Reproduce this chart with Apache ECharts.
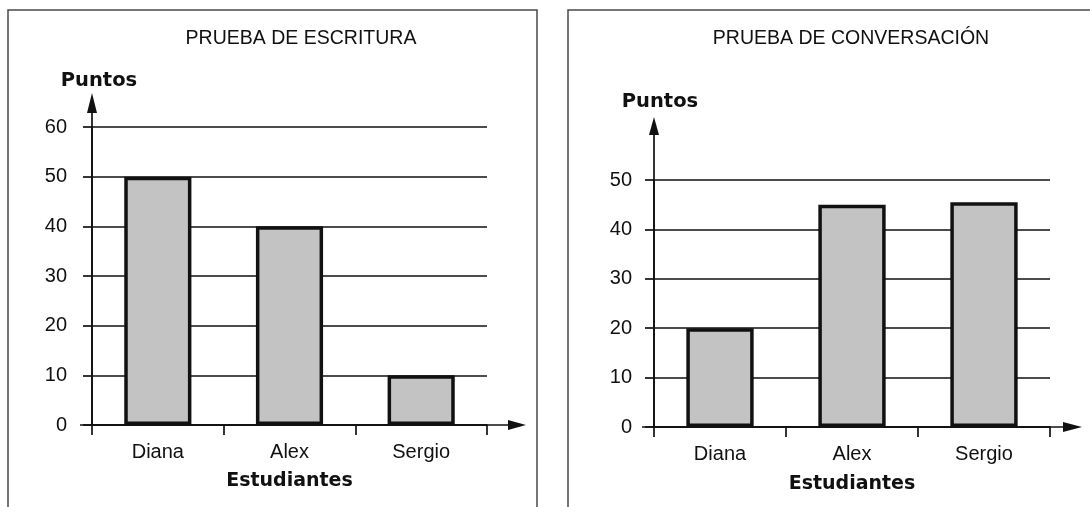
<!DOCTYPE html>
<html><head><meta charset="utf-8">
<script src="https://cdn.jsdelivr.net/npm/echarts@6/dist/echarts.min.js"></script>
<style>html,body{margin:0;padding:0;background:#fff}#c{width:1090px;height:507px}</style>
</head><body><div id="c"></div>
<script>
// ---- data ----
const categories = ['Diana', 'Alex', 'Sergio'];
const escrituraValues = [50, 40, 10];
const conversacionValues = [20, 45, 45.5];
const escrituraTicks = [0, 10, 20, 30, 40, 50, 60];
const conversacionTicks = [0, 10, 20, 30, 40, 50];
const titles = ['PRUEBA DE ESCRITURA', 'PRUEBA DE CONVERSACIÓN'];
const yName = 'Puntos';
const xName = 'Estudiantes';

// ---- layout ----
const FONT = '"Liberation Sans", Arial, sans-serif';
const BFONT = '"DejaVu Sans", "Liberation Sans", sans-serif';
const INK = '#111111';
const LW = 1.7;
const G = [
  { left: 92, top: 127, width: 395, height: 298 },
  { left: 654, top: 180, width: 396, height: 247 }
];

function yAxisFor(i, ticks, margin) {
  return {
    type: 'value', gridIndex: i,
    min: ticks[0], max: ticks[ticks.length - 1], interval: ticks[1] - ticks[0],
    axisLine: { show: true, lineStyle: { color: INK, width: LW } },
    axisTick: { show: true, length: 9, lineStyle: { color: INK, width: LW } },
    splitLine: { show: true, lineStyle: { color: INK, width: LW } },
    axisLabel: { color: INK, fontFamily: FONT, fontSize: 20, margin: margin }
  };
}
function xAxisFor(i, gap, lblMargin) {
  return {
    type: 'category', gridIndex: i, data: categories,
    axisLine: { show: true, lineStyle: { color: INK, width: LW } },
    axisTick: { show: true, length: 10, lineStyle: { color: INK, width: LW } },
    axisLabel: { color: INK, fontFamily: FONT, fontSize: 20, margin: lblMargin },
    name: xName, nameLocation: 'middle', nameGap: gap,
    nameTextStyle: { color: INK, fontFamily: BFONT, fontSize: 19, fontWeight: 'bold' }
  };
}
function barSeries(i, values) {
  return {
    type: 'bar', xAxisIndex: i, yAxisIndex: i, data: values, barWidth: '51%',
    itemStyle: { color: '#c3c3c3', borderColor: INK, borderWidth: 3.5 },
    silent: true
  };
}

// axis arrows built from the grid layout
function axisDecor(g, xStartPad, xEnd, xTip, yTop, yTip) {
  const x0 = g.left, y0 = g.top + g.height;
  const ls = { stroke: INK, lineWidth: LW };
  return [
    { type: 'line', z: 100, shape: { x1: x0 - xStartPad, y1: y0, x2: xEnd + 2, y2: y0 }, style: ls },
    { type: 'polygon', z: 100, shape: { points: [[xEnd, y0 - 5], [xTip, y0], [xEnd, y0 + 5]] }, style: { fill: INK } },
    { type: 'line', z: 100, shape: { x1: x0, y1: y0, x2: x0, y2: yTop - 2 }, style: ls },
    { type: 'polygon', z: 100, shape: { points: [[x0 - 5, yTop], [x0, yTip], [x0 + 5, yTop]] }, style: { fill: INK } }
  ];
}

const chart = echarts.init(document.getElementById('c'), null, { renderer: 'canvas' });
chart.setOption({
  animation: false,
  backgroundColor: '#fff',
  grid: G,
  title: [
    { text: titles[0], left: 296, top: 24, textAlign: 'center',
      textStyle: { color: INK, fontFamily: FONT, fontSize: 19.5, fontWeight: 'normal' } },
    { text: titles[1], left: 846, top: 24, textAlign: 'center',
      textStyle: { color: INK, fontFamily: FONT, fontSize: 19.5, fontWeight: 'normal' } }
  ],
  xAxis: [xAxisFor(0, 47, 17), xAxisFor(1, 48, 17)],
  yAxis: [yAxisFor(0, escrituraTicks, 25), yAxisFor(1, conversacionTicks, 22)],
  series: [barSeries(0, escrituraValues), barSeries(1, conversacionValues)],
  graphic: [
    { type: 'rect', z: 90, shape: { x: 8, y: 10, width: 529, height: 520 }, style: { fill: 'none', stroke: '#4a4a4a', lineWidth: 1.5 } },
    { type: 'rect', z: 90, shape: { x: 568, y: 10, width: 600, height: 520 }, style: { fill: 'none', stroke: '#4a4a4a', lineWidth: 1.5 } },
    ...axisDecor(G[0], 12, 508, 526, 113, 93),
    ...axisDecor(G[1], 12, 1063, 1082, 135, 117),
    { type: 'text', z: 100, x: 99, y: 81, style: { text: yName, fill: INK, font: 'bold 19.5px ' + BFONT, textAlign: 'center', textVerticalAlign: 'middle' } },
    { type: 'text', z: 100, x: 660, y: 102, style: { text: yName, fill: INK, font: 'bold 19.5px ' + BFONT, textAlign: 'center', textVerticalAlign: 'middle' } }
  ]
});
</script></body></html>
